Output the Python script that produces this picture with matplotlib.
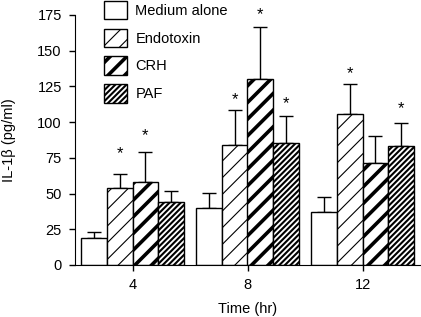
import numpy as np
import matplotlib
matplotlib.use('Agg')
import matplotlib.pyplot as plt
from matplotlib.patches import Patch

plt.rcParams['font.family'] = ['Liberation Sans', 'DejaVu Sans']

# data
times = [4, 8, 12]
groups = ['Medium alone', 'Endotoxin', 'CRH', 'PAF']
means = {
    'Medium alone': [18.7, 39.7, 37.3],
    'Endotoxin':    [54.0, 84.0, 105.7],
    'CRH':          [58.3, 130.0, 71.6],
    'PAF':          [44.3, 85.6, 83.5],
}
err_top = {
    'Medium alone': [23.3, 50.6, 47.8],
    'Endotoxin':    [63.5, 108.5, 127.0],
    'CRH':          [79.0, 166.8, 90.3],
    'PAF':          [52.0, 104.3, 99.2],
}
# significance marks: (group, time index, height)
stars = [('Endotoxin', 0, 77.7), ('CRH', 0, 90.3),
         ('Endotoxin', 1, 115.5), ('CRH', 1, 175.0), ('PAF', 1, 112.7),
         ('Endotoxin', 2, 133.7), ('PAF', 2, 109.7)]

hatches = {'Medium alone': '', 'Endotoxin': '//', 'CRH': '//', 'PAF': '//////'}
hatch_lw = {'Medium alone': 1.0, 'Endotoxin': 0.8, 'CRH': 2.6, 'PAF': 1.5}

fig = plt.figure(figsize=(4.21, 3.17), dpi=100)
ax = fig.add_axes([75/421, 52/317, 345/421, 250/317])

w = 0.9
offsets = np.array([-1.5, -0.5, 0.5, 1.5]) * w
x = np.array(times, dtype=float)

for k, g in enumerate(groups):
    pos = x + offsets[k]
    m = np.array(means[g])
    e = np.array(err_top[g]) - m
    bars = ax.bar(pos, m, width=w, color='white', edgecolor='black',
                  linewidth=1.0, hatch=hatches[g], zorder=2)
    for b in bars:
        if hasattr(b, 'set_hatch_linewidth'):
            b.set_hatch_linewidth(hatch_lw[g])
    ax.errorbar(pos, m, yerr=[np.zeros_like(e), e], fmt='none',
                ecolor='black', elinewidth=1.0, capsize=5, capthick=1.0,
                zorder=1)

for g, i, h in stars:
    k = groups.index(g)
    ax.text(x[i] + offsets[k], h, '*', ha='center', va='center', fontsize=12)

ax.set_xlim(2, 14)
ax.set_ylim(0, 175)
ax.set_xticks(times)
ax.set_yticks([0, 25, 50, 75, 100, 125, 150, 175])
ax.tick_params(direction='out', length=4.5, width=1, labelsize=10.5, pad=5)
ax.spines['top'].set_visible(False)
ax.spines['right'].set_visible(False)
ax.set_xlabel('Time (hr)', fontsize=10.5, labelpad=7)
ax.set_ylabel('IL-1β (pg/ml)', fontsize=10.5, labelpad=15)

handles = [Patch(facecolor='white', edgecolor='black', linewidth=1.0,
                 hatch=hatches[g], label=g) for g in groups]
leg = ax.legend(handles=handles, loc='upper left',
                bbox_to_anchor=(104/421, 1 - 1/317), bbox_transform=fig.transFigure,
                frameon=False, fontsize=10.5, handlelength=1.6, handleheight=1.55,
                labelspacing=0.65, handletextpad=0.55, borderpad=0, borderaxespad=0)
for h, g in zip(leg.legend_handles, groups):
    if hasattr(h, 'set_hatch_linewidth'):
        h.set_hatch_linewidth(hatch_lw[g])

fig.savefig('out.png', dpi=100)
